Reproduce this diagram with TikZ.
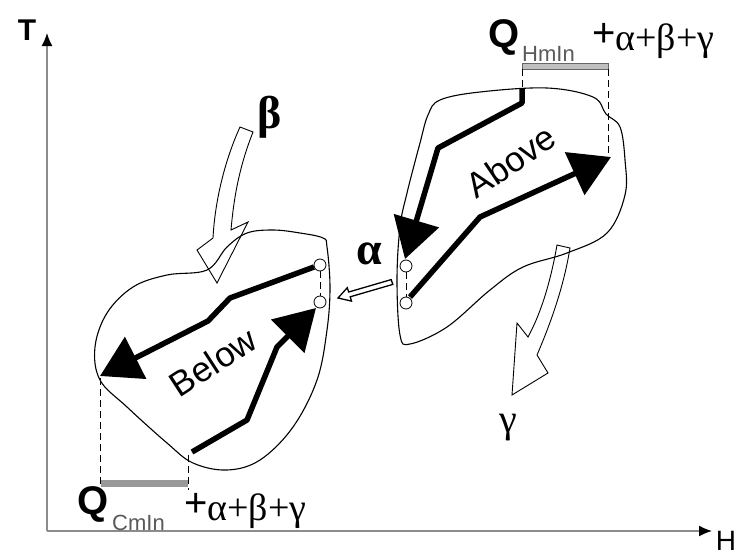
\documentclass[tikz,border=0pt]{standalone}
\usepackage{fontspec}
\setmainfont{Liberation Sans}
\newfontfamily\grk{Liberation Serif}
\usetikzlibrary{arrows.meta}

\begin{document}
\begin{tikzpicture}[x=1pt, y=-1pt,
  blob/.style={line width=1.1pt},
  flow/.style={line width=5.5pt, line join=round, -{Triangle[width=46pt, length=40pt]}},
  hollow/.style={line width=0.9pt, line join=miter},
  guide/.style={line width=1pt, dash pattern=on 7pt off 4pt},
  pinch/.style={line width=0.8pt, fill=white},
  axis/.style={line width=1.5pt, black!45, -{Latex[color=black, length=13pt, width=11pt]}}]
  \useasboundingbox (0,0) rectangle (741,557);

  % axes
  \coordinate (o) at (47,531);
  \coordinate (ttip) at (47,33);
  \coordinate (htip) at (712,531);
  \draw[axis] (o) -- (ttip);
  \draw[axis] (o) -- (htip);
  \node[font=\bfseries\fontsize{30}{30}\selectfont] (tlab) at (27,30) {T};
  \node[font=\fontsize{28}{28}\selectfont] (hlab) at (726,541) {H};

  % the two regions
  \draw[blob] plot[smooth cycle, tension=0.6] coordinates {(440,100) (480,92) (547,88) (593,97) (606,114) (620,127) (625,160) (625,195) (607,233) (567,253) (523,267) (490,290) (447,327) (410,344) (400,335) (397,280) (400,227) (407,193) (420,143) (428,115)};
  \draw[blob] plot[smooth cycle, tension=0.6] coordinates {(323,238) (300,233) (273,230) (247,233) (227,247) (207,270) (167,275) (133,287) (107,313) (95,347) (100,380) (127,407) (167,443) (193,463) (227,470) (260,460) (293,427) (317,380) (327,330) (330,287) (327,247)};

  % above
  \draw[flow] (522,88) -- (522,103) -- (438,148) -- (405,259);
  \draw[flow] (410,297) -- (480,217) -- (611,157);
  \node[rotate=34, font=\fontsize{35}{35}\selectfont] (abovetxt) at (511,161) {Above};
  \draw[guide] (406,272) -- (406,297);
  \draw[pinch] (406,266) circle (6pt);
  \draw[pinch] (406,303) circle (6pt);

  % below
  \draw[flow] (314,267) -- (230,298) -- (208,321) -- (100,376);
  \draw[flow] (192,452) -- (247,420) -- (277,347) -- (316,308);
  \node[rotate=33, font=\fontsize{35}{35}\selectfont] (belowtxt) at (213,362) {Below};
  \draw[guide] (320,271) -- (320,296);
  \draw[pinch] (320,265) circle (6pt);
  \draw[pinch] (320,302) circle (6pt);

  % minimum utilities
  \draw[black!60, fill=black!25, line width=0.6pt] (522,63) rectangle (608,69);
  \draw[guide] (522,69) -- (522,88);
  \draw[guide] (608,69) -- (608,155);
  \fill[black!40] (101,480) rectangle (188,487);
  \draw[guide] (100,378) -- (100,487);
  \draw[guide] (188,455) -- (188,490);

  \node[font=\bfseries\fontsize{40}{40}\selectfont, anchor=base west, inner sep=0] (qh) at (488,47) {Q};
  \node[font=\fontsize{22}{22}\selectfont, text=black!65, anchor=base west, inner sep=0] (qhsub) at (522,61) {HmIn};
  \node[anchor=base west, inner sep=0] (plush) at (592,46) {\fontsize{40}{40}\selectfont +\grk\fontsize{38}{38}\selectfont\raisebox{-4pt}{α+β+γ}};
  \node[font=\bfseries\fontsize{40}{40}\selectfont, anchor=base west, inner sep=0] (qc) at (77,514) {Q};
  \node[font=\fontsize{22}{22}\selectfont, text=black!65, anchor=base west, inner sep=0] (qcsub) at (112,530) {CmIn};
  \node[anchor=base west, inner sep=0] (plusc) at (184,516) {\fontsize{40}{40}\selectfont +\grk\fontsize{38}{38}\selectfont\raisebox{-4pt}{α+β+γ}};

  % heat flows
  \draw[hollow] (240,127) .. controls (225,160) and (215,200) .. (213,238) -- (197,250) -- (217,283) -- (248,222) -- (231,230) .. controls (234,195) and (240,165) .. (253,132) -- cycle;
  \node[font=\grk\bfseries\fontsize{46}{46}\selectfont] (blab) at (270,117) {β};
  \draw[hollow, line width=1.3pt] (391.2,279.6) -- (348.7,292) -- (347.3,287.7) -- (338,298) -- (351.5,301.1) -- (350.2,296.8) -- (392.8,284.4) -- cycle;
  \node[font=\grk\bfseries\fontsize{46}{46}\selectfont] (alab) at (369,254) {α};
  \draw[hollow] (557,245) .. controls (550,285) and (540,315) .. (528,337) -- (517,323) -- (512,395) -- (548,373) -- (537,355) .. controls (552,320) and (564,285) .. (570,248) -- cycle;
  \node[font=\grk\fontsize{40}{40}\selectfont] (glab) at (508,428) {γ};
\end{tikzpicture}
\end{document}
